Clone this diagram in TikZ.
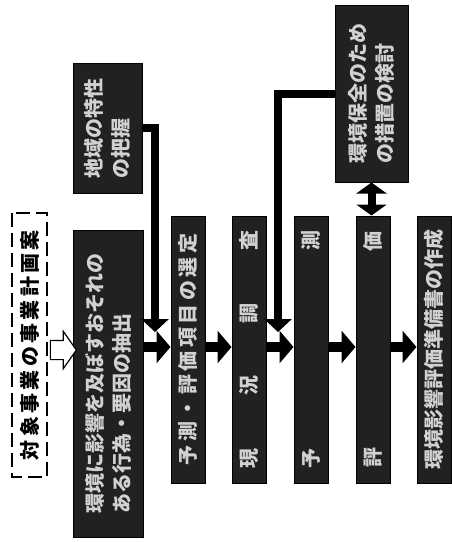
\documentclass[tikz,border=0pt]{standalone}
\usepackage{fontspec}
\newfontfamily\jp{Noto Sans CJK JP}
\usetikzlibrary{arrows.meta,shapes.arrows}
\begin{document}
\begin{tikzpicture}[x=1pt,y=-1pt,
  dbox/.style={rotate=90, draw=black, line width=1pt, fill=black!87, text=white!82!black,
    inner sep=0pt, font=\jp\bfseries\fontsize{20}{27}\selectfont, align=left},
  rbox/.style={dbox, minimum width=267pt, minimum height=34pt},
  fat/.style={line width=10pt, -{Triangle[length=14pt,width=32pt]}},
  bar/.style={line width=8pt, line join=miter, -{Triangle[length=13pt,width=27pt]}},
  dbl/.style={line width=8pt, {Triangle[length=11pt,width=30pt]}-{Triangle[length=11pt,width=30pt]}},
  plan/.style={rotate=90, draw=black, fill=white, line width=1.8pt, dash pattern=on 14pt off 6pt,
    inner sep=0pt, font=\jp\bfseries\fontsize{20}{24}\selectfont},
  hollow/.style={single arrow, draw=black, fill=white, line width=1.2pt, minimum height=26pt,
    inner xsep=0pt, inner ysep=9pt, single arrow head extend=9pt, single arrow tip angle=110}
]
\useasboundingbox[fill=white] (0,0) rectangle (451,542);

% plan box
\node[plan, minimum width=264pt, minimum height=35pt] (D) at (29.5,345)
  {\makebox[230pt]{対\hfill 象\hfill 事\hfill 業\hfill の\hfill 事\hfill 業\hfill 計\hfill 画\hfill 案}};

% main boxes
\node[dbox, minimum width=307pt, minimum height=70pt] (L) at (108,383.5)
  {環境に影響を及ぼすおそれの\\ある行為・要因の抽出};
\node[dbox, minimum width=130pt, minimum height=69pt] (UL) at (107.5,128)
  {地域の特性\\の把握};
\node[dbox, minimum width=177pt, minimum height=73pt] (T) at (371.5,93.5)
  {環境保全のため\\の措置の検討};

\node[rbox] (B1) at (188,349.5)
  {\makebox[232pt]{予\hfill 測\hfill ・\hfill 評\hfill 価\hfill 項\hfill 目\hfill の\hfill 選\hfill 定}};
\node[rbox] (B2) at (249,349.5)
  {\makebox[238pt]{現\hfill 況\hfill 調\hfill 査}};
\node[rbox] (B3) at (311,349.5)
  {\makebox[238pt]{予\hfill 測}};
\node[rbox] (B4) at (373,349.5)
  {\makebox[236pt]{評\hfill 価}};
\node[rbox] (B5) at (434,349.5)
  {\makebox[238pt]{環\hfill 境\hfill 影\hfill 響\hfill 評\hfill 価\hfill 準\hfill 備\hfill 書\hfill の\hfill 作\hfill 成}};

% hollow arrow from plan to first box
\node[hollow] (HA) at (60,350) {};

% connectors
\coordinate (ay) at (0,347);
\draw[fat] (L.south |- ay) -- (B1.north |- ay);
\draw[fat] (B1.south |- ay) -- (B2.north |- ay);
\draw[fat] (B2.south |- ay) -- (B3.north |- ay);
\draw[fat] (B3.south |- ay) -- (B4.north |- ay);
\draw[fat] (B4.south |- ay) -- (B5.north |- ay);

\coordinate (j1) at (155,332);
\coordinate (j2) at (278,332);
\draw[bar] (UL.south) -| (j1);
\draw[bar] (T.north) -| (j2);

\draw[dbl] (T.west) -- (T.west |- B4.east);
\end{tikzpicture}
\end{document}
